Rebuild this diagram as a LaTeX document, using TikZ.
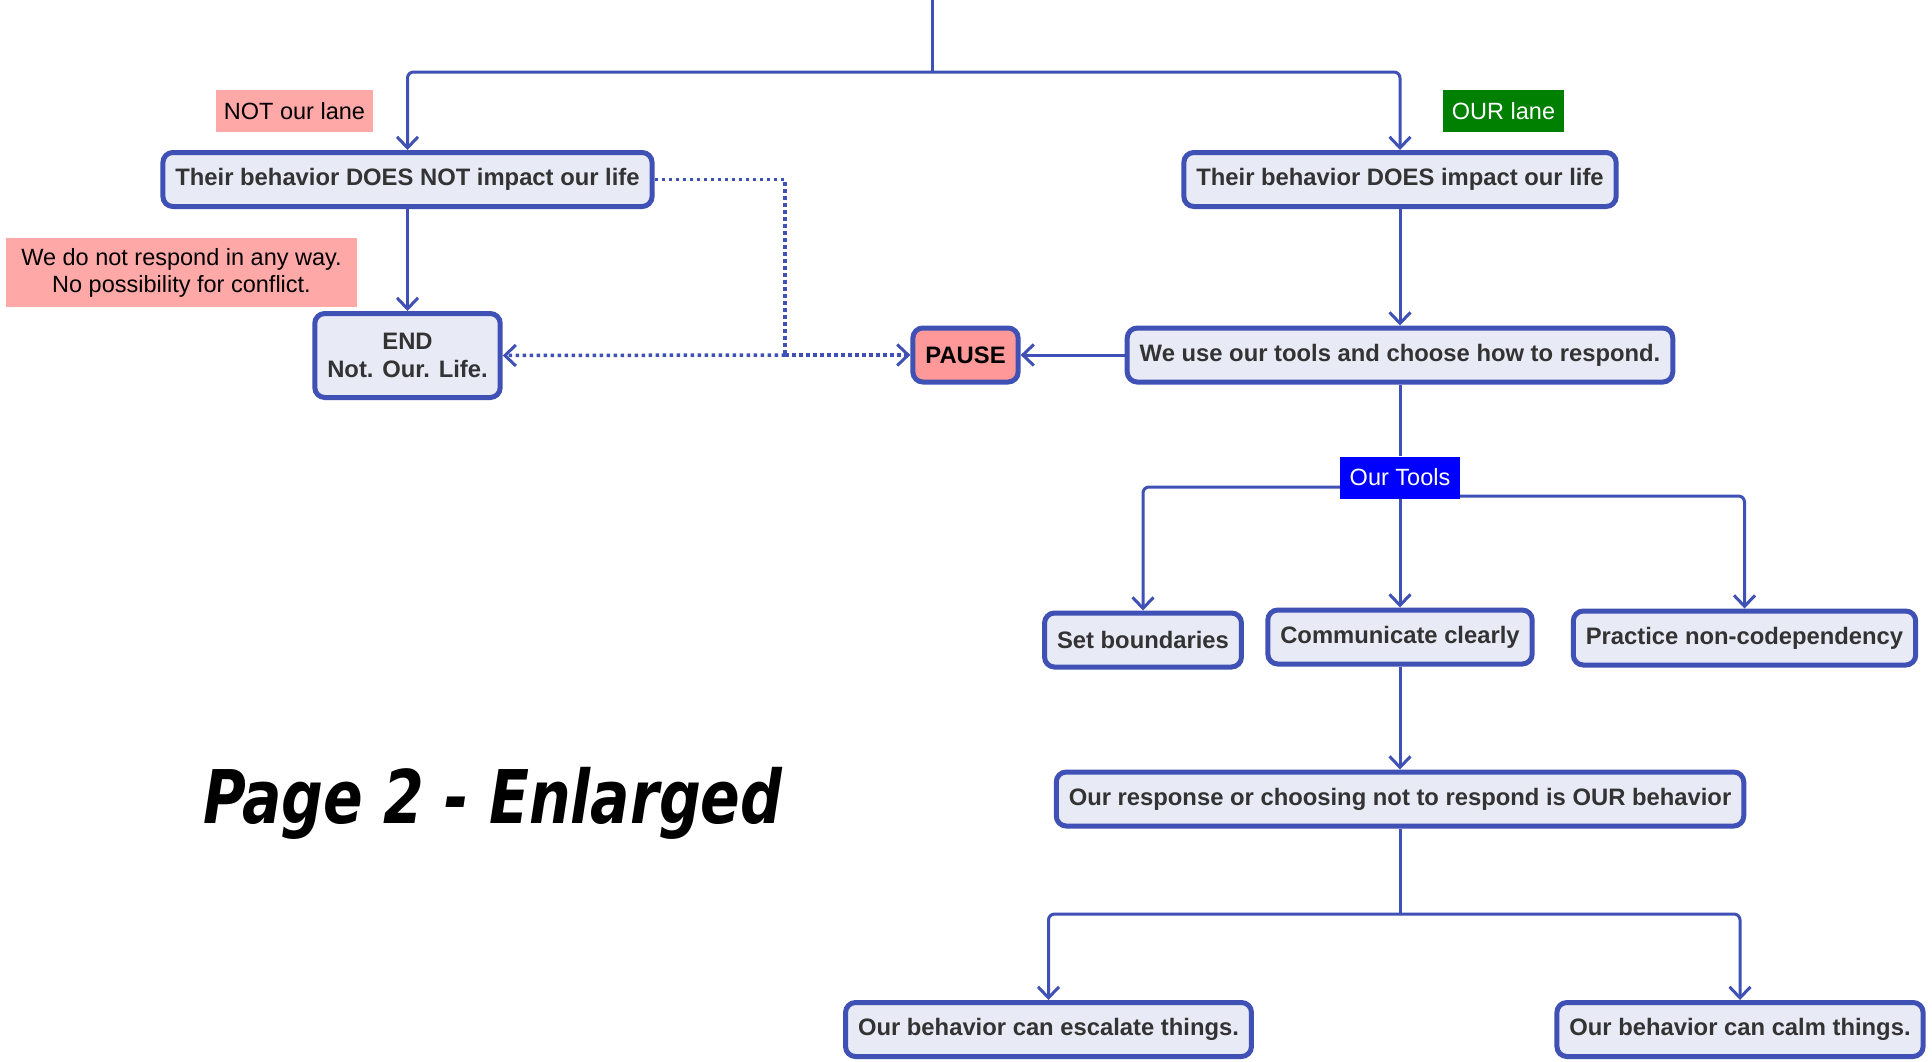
\documentclass[tikz,border=0pt]{standalone}
\usepackage{fontspec}
\setmainfont{Liberation Sans}
\newfontfamily\pagefont{DejaVu Sans}
\usetikzlibrary{arrows.meta,calc}
\definecolor{edgeblue}{HTML}{3F51B5}
\definecolor{boxfill}{HTML}{E8EAF6}
\definecolor{boxtext}{HTML}{333333}
\definecolor{pinklab}{HTML}{FFA8A8}
\definecolor{pausefill}{HTML}{FF9999}
\definecolor{greenlab}{HTML}{008000}
\definecolor{bluelab}{HTML}{0000FF}
\tikzset{
  flowbox/.style={draw=edgeblue, line width=5pt, fill=boxfill, rounded corners=10pt,
    inner xsep=12.5pt, inner ysep=0pt, minimum height=54pt, text=boxtext,
    font=\fontsize{23.8pt}{28.5pt}\selectfont\bfseries, align=center},
  pausebox/.style={flowbox, fill=pausefill, text=black},
  lanelab/.style={inner xsep=8pt, inner ysep=0pt, minimum height=42pt,
    font=\fontsize{23.5pt}{27pt}\selectfont, align=center},
  conn/.style={draw=edgeblue, line width=3pt},
  dotline/.style={draw=edgeblue, line width=3.5pt, dash pattern=on 3.5pt off 3.5pt},
  tip/.style={-{Straight Barb[length=11pt,width=21pt,line width=3pt]}},
}
\begin{document}
\begin{tikzpicture}[x=1pt,y=-1pt]
\useasboundingbox (0,0) rectangle (1932,1061);
\fill[white] (0,0) rectangle (1932,1061);

% nodes
\node[flowbox] (notimpact) at (407.5,179.5) {Their behavior DOES NOT impact our life};
\node[flowbox] (impact) at (1400,179.5) {Their behavior DOES impact our life};
\node[flowbox, minimum height=84pt] (endn) at (407.5,355.5) {END\\Not. Our. Life.};
\node[pausebox] (pause) at (965.5,355) {PAUSE};
\node[flowbox] (usetools) at (1400,355) {We use our tools and choose how to respond.};
\node[flowbox] (setb) at (1143,640) {Set boundaries};
\node[flowbox] (comm) at (1400,637) {Communicate clearly};
\node[flowbox] (practice) at (1744.5,638) {Practice non-codependency};
\node[flowbox] (resp) at (1400,799) {Our response or choosing not to respond is OUR behavior};
\node[flowbox] (esc) at (1048.5,1029.5) {Our behavior can escalate things.};
\node[flowbox] (calm) at (1740,1029.5) {Our behavior can calm things.};

% connectors
\coordinate (top) at (932,-4);
\coordinate (split1) at (932,72);
\draw[conn] (top) -- (split1);
\draw[conn,tip,rounded corners=6pt] (split1) -| (notimpact.north);
\draw[conn,tip,rounded corners=6pt] (split1) -| (impact.north);
\draw[conn,tip] (notimpact.south) -- (endn.north);
\draw[conn,tip] (impact.south) -- (usetools.north);
\draw[conn,tip] (usetools.west) -- (pause.east);

\coordinate (dj) at (785,355);
\draw[dotline] (notimpact.east) -| (dj);
\draw[dotline,tip] (dj) -- (endn.east);
\draw[dotline,tip] (dj) -- (pause.west);

\node[lanelab, fill=bluelab, text=white, minimum width=120pt] (tools) at (1400,477.5) {Our Tools};
\draw[conn] (usetools.south) -- (tools.north);
\draw[conn,tip,rounded corners=6pt] ([yshift=-9.5pt]tools.west) -| (setb.north);
\draw[conn,tip] (tools.south) -- (comm.north);
\draw[conn,tip,rounded corners=6pt] ([yshift=-18.5pt]tools.east) -| (practice.north);
\draw[conn,tip] (comm.south) -- (resp.north);
\coordinate (split2) at (1400,914);
\draw[conn] (resp.south) -- (split2);
\draw[conn,tip,rounded corners=6pt] (split2) -| (esc.north);
\draw[conn,tip,rounded corners=6pt] (split2) -| (calm.north);

% labels
\node[lanelab, fill=pinklab, text=black, minimum width=157pt] (nolane) at (294.5,111) {NOT our lane};
\node[lanelab, fill=greenlab, text=white, minimum width=121pt] (ourlane) at (1503.5,111) {OUR lane};
\node[lanelab, fill=pinklab, text=black, minimum width=351pt, minimum height=69pt] (nores) at (181.5,272.5) {We do not respond in any way.\\No possibility for conflict.};

\node[anchor=base west, inner sep=0pt] (pagetitle) at (203,823)
  {\scalebox{0.79}[1]{\pagefont\bfseries\itshape\fontsize{74pt}{80pt}\selectfont Page 2 - Enlarged}};
\end{tikzpicture}
\end{document}
